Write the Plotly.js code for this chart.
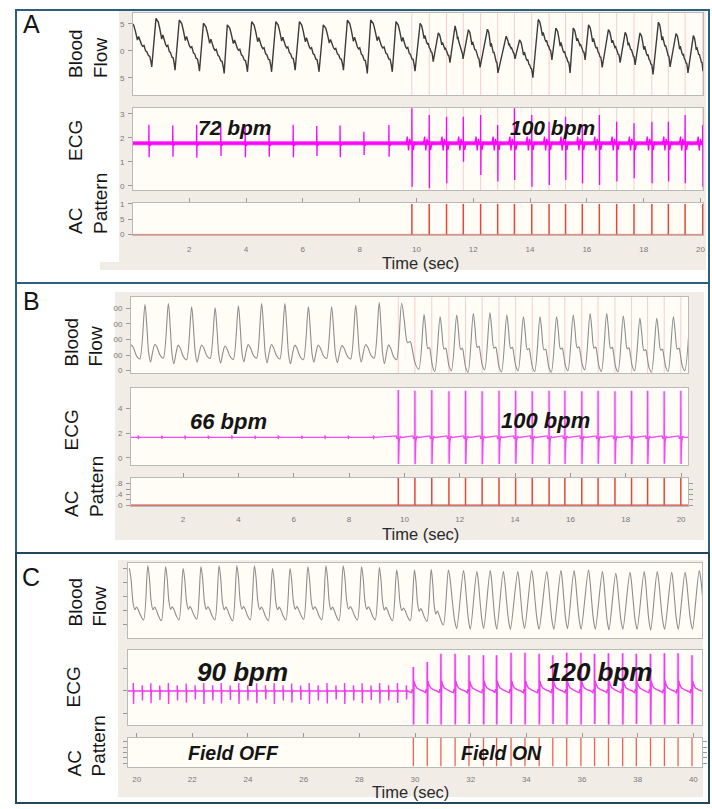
<!DOCTYPE html>
<html>
<head>
<meta charset="utf-8">
<script src="https://cdn.plot.ly/plotly-3.0.1.min.js"></script>
<style>
  html, body { margin: 0; padding: 0; background: #ffffff; }
  #chart { width: 712px; height: 809px; }
</style>
</head>
<body>
<div id="chart"></div>
<script>
// ===================== Panel A (0-20 s, field switched on near 9.8 s) =====================
const timeA = [0.02, 20.09];
// blood-flow beats before pacing: systolic peak, then the diastolic minimum that follows it
const flowA_peakT   = [-0.04, 0.83, 1.65, 2.50, 3.34, 4.20, 5.05, 5.88, 6.72, 7.57, 8.39, 9.28];
const flowA_peakV   = [5.3, 6.0, 5.7, 5.1, 4.8, 5.4, 5.4, 5.4, 4.8, 5.7, 5.7, 5.4];
const flowA_troughT = [0.68, 1.50, 2.36, 3.23, 4.05, 4.90, 5.73, 6.57, 7.43, 8.27, 9.15, 9.95];
const flowA_troughV = [-3.0, -3.6, -3.8, -4.2, -3.9, -3.9, -3.6, -3.9, -3.6, -4.2, -3.9, -3.8];
// blood-flow beats while paced
const flowA_pacedPeakT   = [10.13, 10.77, 11.36, 11.83, 12.50, 13.16, 13.63, 14.29, 14.91, 15.52, 16.06, 16.76, 17.35, 17.87, 18.52, 19.14, 19.75];
const flowA_pacedPeakV   = [5.1, 3.3, 4.6, 3.9, 4.0, 2.7, 2.0, 5.8, 4.2, 4.2, 4.8, 3.9, 3.4, 3.3, 5.3, 3.2, 2.8];
const flowA_pacedTroughT = [10.59, 11.18, 11.64, 12.24, 12.87, 13.47, 14.10, 14.77, 15.41, 15.94, 16.54, 17.17, 17.70, 18.33, 18.93, 19.56, 20.09];
const flowA_pacedTroughV = [-2.0, -2.2, -1.5, -3.1, -4.1, -1.5, -5.0, -1.7, -4.1, -1.7, -3.1, -2.2, -2.6, -4.4, -3.0, -4.1, -3.8];
// decay from peak to the next minimum (phase of the interval, fraction of the swing)
const flowA_decay = {
  phase: [0.05, 0.12, 0.20, 0.30, 0.36, 0.44, 0.50, 0.56, 0.62, 0.70, 0.76, 0.84, 0.90, 0.96],
  level: [0.96, 0.93, 0.80, 0.60, 0.68, 0.55, 0.50, 0.46, 0.48, 0.36, 0.34, 0.25, 0.24, 0.12]
};
// ECG
const ecgA_base = 1.78;
const ecgA_beatT    = [0.58, 1.42, 2.26, 3.11, 3.97, 4.81, 5.66, 6.49, 7.31, 8.15, 9.03];
const ecgA_beatUp   = [2.55, 2.52, 2.55, 2.50, 2.52, 2.50, 2.55, 2.50, 2.52, 2.26, 2.54];
const ecgA_beatDown = [1.20, 1.22, 1.18, 1.25, 1.20, 1.22, 1.20, 1.25, 1.20, 1.29, 1.22];
// AC field pulses (also the paced ECG spikes)
const acA_pulseT = [9.84, 10.45, 11.06, 11.65, 12.26, 12.86, 13.45, 14.06, 14.67, 15.25, 15.84, 16.44, 17.05, 17.66, 18.29, 18.87, 19.46, 20.08];
const ecgA_pacedUp   = [3.24, 2.96, 2.89, 2.89, 2.96, 2.54, 3.24, 2.96, 2.68, 2.89, 2.54, 2.96, 2.68, 2.61, 2.68, 2.68, 2.96, 2.54];
const ecgA_pacedDown = [-0.03, -0.10, 0.11, 1.01, 0.46, 0.18, 0.25, -0.03, 0.04, 0.25, 0.11, 0.04, 0.18, 0.32, 0.11, 0.18, 0.11, -0.03];
const ecgA_paceLead = [[-0.20, 0], [-0.16, 0.28], [-0.12, -0.30], [-0.08, 0.18], [-0.04, 0]];
const ecgA_paceTail = [[0.05, -0.28], [0.10, 0.05], [0.14, 0]];
const ecgA_beatTail = [[0.04, -0.10], [0.08, 0]];

// ===================== Panel B (0-20 s) =====================
const timeB = [0.12, 20.25];
const flowB_peakT   = [-0.22, 0.625, 1.47, 2.31, 3.16, 4.00, 4.84, 5.68, 6.53, 7.37, 8.24, 9.09];
const flowB_peakV   = [420, 425, 431, 410, 403, 416, 431, 431, 410, 410, 420, 437];
const flowB_troughT = [0.44, 1.29, 2.13, 2.98, 3.82, 4.66, 5.50, 6.35, 7.19, 8.06, 8.91, 9.72];
const flowB_troughV = [75, 80, 70, 78, 72, 80, 75, 70, 78, 75, 80, 70];
const flowB_pacedPeakT   = [9.90, 10.71, 11.29, 11.89, 12.49, 13.09, 13.70, 14.30, 14.90, 15.50, 16.10, 16.71, 17.31, 17.91, 18.51, 19.12, 19.72, 20.32];
const flowB_pacedPeakV   = [433, 361, 346, 357, 367, 371, 357, 346, 346, 346, 357, 367, 367, 350, 336, 336, 346, 380];
const flowB_pacedTroughT = [10.52, 11.10, 11.70, 12.30, 12.90, 13.51, 14.11, 14.71, 15.31, 15.91, 16.52, 17.12, 17.72, 18.32, 18.93, 19.53, 20.13];
const flowB_pacedTroughV = [10, -5, 0, -10, 5, -8, 0, -5, -10, 0, 5, -5, -8, 0, -10, -5, 0];
const flowB_natural = { phase: [0.10, 0.20, 0.30, 0.42, 0.54, 0.66, 0.80, 0.90], level: [0.60, 0.10, -0.07, 0.12, 0.26, 0.20, 0.07, 0.02] };
const flowB_paced   = { phase: [0.15, 0.35, 0.50, 0.62, 0.80], level: [0.75, 0.40, 0.42, 0.30, 0.08] };
const ecgB_base = 1.65;
const ecgB_beatT    = [0.38, 1.23, 2.07, 2.91, 3.76, 4.60, 5.44, 6.29, 7.13, 7.97, 8.88];
const ecgB_beatUp   = [1.82, 1.80, 1.82, 1.80, 1.82, 1.80, 1.82, 1.80, 1.82, 1.80, 1.82];
const ecgB_beatDown = [1.50, 1.52, 1.50, 1.52, 1.50, 1.52, 1.50, 1.52, 1.50, 1.52, 1.50];
const acB_pulseT = [9.78, 10.38, 10.99, 11.61, 12.21, 12.81, 13.42, 14.02, 14.62, 15.23, 15.80, 16.41, 17.00, 17.61, 18.21, 18.79, 19.39, 19.99];
const ecgB_pacedUp   = [5.50, 5.45, 5.50, 5.40, 5.45, 5.40, 5.45, 5.45, 5.40, 5.45, 5.45, 5.40, 5.45, 5.40, 5.45, 5.45, 5.40, 5.45];
const ecgB_pacedDown = [-0.50, -0.52, -0.50, -0.48, -0.50, -0.52, -0.50, -0.48, -0.50, -0.52, -0.50, -0.50, -0.48, -0.50, -0.52, -0.50, -0.48, -0.50];
const ecgB_paceLead = [[-0.07, 0.12], [-0.05, -0.12], [-0.03, 0]];
const ecgB_paceTail = [[0.03, -0.35], [0.07, 0.10], [0.12, 0]];
const ecgB_beatTail = [[0.03, 0.06], [0.06, 0]];

// ===================== Panel C (20-40 s, field OFF / ON at 30 s) =====================
const timeC = [19.69, 40.31];
const flowC_peakT   = [19.74, 20.40, 21.04, 21.67, 22.31, 22.96, 23.60, 24.23, 24.88, 25.51, 26.15, 26.80, 27.42, 28.08, 28.72, 29.34, 29.98, 30.58];
const flowC_peakV   = [4.00, 4.17, 4.10, 3.98, 4.10, 4.17, 4.17, 4.17, 3.98, 3.98, 4.10, 4.17, 4.17, 4.10, 4.05, 3.87, 3.87, 3.90];
const flowC_troughT = [20.25, 20.89, 21.52, 22.16, 22.81, 23.45, 24.08, 24.73, 25.36, 26.00, 26.65, 27.27, 27.93, 28.57, 29.19, 29.83, 30.43, 31.02];
const flowC_troughV = [0.35, 0.30, 0.35, 0.40, 0.35, 0.30, 0.35, 0.30, 0.35, 0.40, 0.35, 0.30, 0.35, 0.35, 0.30, 0.30, 0.25, 0.00];
const flowC_pacedPeakT   = [31.20, 31.74, 32.22, 32.70, 33.17, 33.69, 34.19, 34.73, 35.24, 35.71, 36.23, 36.73, 37.21, 37.72, 38.23, 38.70, 39.22, 39.70, 40.21];
const flowC_pacedPeakV   = [3.87, 3.83, 3.76, 3.83, 3.76, 3.76, 3.83, 3.76, 3.83, 3.83, 3.87, 3.76, 3.64, 3.71, 3.76, 3.76, 3.71, 3.71, 3.83];
const flowC_pacedTroughT = [31.50, 31.99, 32.47, 32.94, 33.43, 33.94, 34.46, 34.99, 35.48, 35.97, 36.48, 36.97, 37.47, 37.98, 38.47, 38.97, 39.46, 39.97, 40.50];
const flowC_pacedTroughV = [-0.25, -0.30, -0.25, -0.30, -0.30, -0.25, -0.30, -0.30, -0.25, -0.30, -0.30, -0.35, -0.30, -0.30, -0.35, -0.30, -0.30, -0.30, -0.30];
const flowC_natural = { phase: [0.12, 0.25, 0.38, 0.50, 0.62, 0.80], level: [0.78, 0.35, 0.20, 0.25, 0.20, 0.08] };
const flowC_paced   = { phase: [0.20, 0.45, 0.70, 0.88], level: [0.85, 0.50, 0.18, 0.05] };
const ecgC_base = 0;
const ecgC_beatT    = [19.88, 20.51, 21.14, 21.78, 22.41, 23.04, 23.67, 24.31, 24.94, 25.57, 26.20, 26.84, 27.47, 28.10, 28.73, 29.37];
const ecgC_beatUp   = [0.36, 0.34, 0.36, 0.33, 0.36, 0.35, 0.36, 0.34, 0.36, 0.33, 0.36, 0.35, 0.36, 0.34, 0.36, 0.35];
const ecgC_beatDown = [-0.58, -0.55, -0.58, -0.52, -0.58, -0.56, -0.58, -0.55, -0.58, -0.52, -0.58, -0.56, -0.58, -0.55, -0.56, -0.54];
const ecgC_echoT    = [20.20, 20.83, 21.46, 22.10, 22.73, 23.36, 23.99, 24.63, 25.26, 25.89, 26.52, 27.16, 27.79, 28.42, 29.05, 29.69];
const ecgC_echoUp   = [0.26, 0.24, 0.26, 0.25, 0.26, 0.24, 0.26, 0.25, 0.26, 0.24, 0.26, 0.25, 0.26, 0.24, 0.26, 0.25];
const ecgC_echoDown = [-0.42, -0.40, -0.42, -0.38, -0.42, -0.40, -0.42, -0.38, -0.42, -0.40, -0.42, -0.38, -0.42, -0.40, -0.42, -0.38];
const acC_pulseT = [29.94, 30.44, 30.93, 31.44, 31.94, 32.46, 32.93, 33.45, 33.95, 34.46, 34.95, 35.45, 35.96, 36.45, 36.95, 37.46, 37.95, 38.46, 38.96, 39.45, 39.95];
const ecgC_pacedUp   = [1.07, 1.29, 1.66, 1.66, 1.60, 1.60, 1.60, 1.71, 1.71, 1.66, 1.60, 1.71, 1.71, 1.66, 1.69, 1.69, 1.66, 1.66, 1.69, 1.69, 1.60];
const ecgC_pacedDown = [-1.50, -1.48, -1.50, -1.50, -1.48, -1.50, -1.50, -1.48, -1.50, -1.50, -1.48, -1.50, -1.50, -1.48, -1.50, -1.50, -1.48, -1.50, -1.50, -1.48, -1.50];
const ecgC_paceLead = [[-0.06, -0.08], [-0.04, 0.08], [-0.02, 0]];
const ecgC_paceTail = [[0.025, 0.45], [0.06, 0.28], [0.12, 0.14], [0.22, 0.06], [0.35, 0]];
const ecgC_beatTail = [[0.02, 0.05], [0.04, 0]];

// tick labels
const ticksA = [2, 4, 6, 8, 10, 12, 14, 16, 18, 20];
const ticksC = [20, 22, 24, 26, 28, 30, 32, 34, 36, 38, 40];

// ===================== builders =====================
// peak -> decay (shape template) -> minimum -> next peak ...
function flowSeries(segments) {
  const x = [], y = [];
  segments.forEach(seg => {
    seg.peakT.forEach((tp, i) => {
      const vp = seg.peakV[i];
      x.push(tp); y.push(vp);
      if (i < seg.troughT.length) {
        const tt = seg.troughT[i], vt = seg.troughV[i];
        seg.shape.phase.forEach((p, k) => {
          x.push(tp + p * (tt - tp));
          y.push(vt + seg.shape.level[k] * (vp - vt));
        });
        x.push(tt); y.push(vt);
      }
    });
  });
  return { x, y };
}

// baseline with sharp spikes; lead / tail give small deflections around each spike
function spikeEvents(base, times, ups, downs, lead, tail) {
  return times.map((t, i) => {
    const pts = [];
    lead.forEach(([dt, dv]) => pts.push([dt, base + dv]));
    pts.push([-0.004, base], [0, ups[i]], [0.008, downs[i]], [0.014, base]);
    tail.forEach(([dt, dv]) => pts.push([dt, base + dv]));
    return { t, pts };
  });
}
function ecgSeries(base, range, events) {
  events.sort((a, b) => a.t - b.t);
  const x = [range[0]], y = [base];
  events.forEach(ev => ev.pts.forEach(([dt, v]) => { x.push(ev.t + dt); y.push(v); }));
  x.push(range[1]); y.push(base);
  return { x, y };
}
function pulseLines(times, y0, y1) {
  const x = [], y = [];
  times.forEach(t => { x.push(t, t, null); y.push(y0, y1, null); });
  return { x, y };
}
// soft halo drawn under each paced spike
function spikeHalo(times, ups, downs) {
  const x = [], y = [];
  times.forEach((t, i) => { x.push(t, t, null); y.push(downs[i], ups[i], null); });
  return { x, y };
}

// ===================== geometry (pixels in a 712 x 809 page) =====================
const W = 712, H = 809;
const FONT = 'Liberation Sans, Arial, Helvetica, sans-serif';
const dx = (a, b) => [a / W, b / W];
const dy = (top, bottom) => [1 - bottom / H, 1 - top / H];

const geo = {
  A: { x: [133, 703], flow: [13, 95],   ecg: [108, 190], ac: [203, 235] },
  B: { x: [131, 688], flow: [297, 373], ecg: [388, 465], ac: [478, 506] },
  C: { x: [128, 702], flow: [563, 638], ecg: [650, 725], ac: [738, 767] }
};
const yr = {
  A: { flow: [-8.2, 7.0], ecg: [-0.17, 3.25], ac: [-0.02, 1.03] },
  B: { flow: [-15, 473],  ecg: [-0.59, 5.67], ac: [-0.03, 1.01] },
  C: { flow: [-0.92, 4.37], ecg: [-1.52, 1.83], ac: [-0.03, 1.03] }
};

const lineCol = '#b9b9b9';
const tickFont = { family: FONT, size: 8, color: '#7a7a7a' };

function xAxis(px, range, anchor, labels, standoff) {
  return {
    domain: dx(px[0], px[1]), range, anchor,
    showline: true, mirror: true, linecolor: lineCol, linewidth: 1,
    showgrid: false, zeroline: false, fixedrange: true,
    ticks: '', showticklabels: !!labels,
    tickvals: labels || [], ticktext: (labels || []).map(String),
    tickfont: tickFont, ticklabelstandoff: standoff || 6
  };
}
function topTicks(px, range, anchor, overlay, labels) {
  return {
    domain: dx(px[0], px[1]), range, anchor, overlaying: overlay, side: 'top',
    showline: false, showgrid: false, zeroline: false, fixedrange: true,
    ticks: 'outside', ticklen: 4, tickcolor: '#9a9a9a', tickwidth: 1,
    tickvals: labels, showticklabels: false
  };
}
function yAxis(px, range, anchor, vals, text, mirrorTicks) {
  return {
    domain: dy(px[0], px[1]), range, anchor,
    showline: true, mirror: mirrorTicks ? 'ticks' : true, linecolor: lineCol, linewidth: 1,
    showgrid: false, zeroline: false, fixedrange: true,
    ticks: 'outside', ticklen: 4, tickcolor: '#9a9a9a', tickwidth: 1,
    tickvals: vals, ticktext: text || vals.map(() => ''), showticklabels: !!text,
    tickfont: tickFont, ticklabelstandoff: 2
  };
}

// ===================== traces =====================
const traces = [];
function add(xy, axX, axY, line, shape) {
  traces.push({
    x: xy.x, y: xy.y, xaxis: axX, yaxis: axY, type: 'scatter', mode: 'lines',
    line: Object.assign({ shape: shape || 'linear' }, line),
    hoverinfo: 'skip', showlegend: false, connectgaps: false
  });
}
const faint = { color: 'rgba(236,120,130,0.36)', width: 1 };
const halo = { color: 'rgba(240,130,240,0.35)', width: 3 };

// ---- A ----
add(pulseLines(acA_pulseT, yr.A.flow[0], yr.A.flow[1]), 'x', 'y', faint);
add(flowSeries([
  { peakT: flowA_peakT, peakV: flowA_peakV, troughT: flowA_troughT, troughV: flowA_troughV, shape: flowA_decay },
  { peakT: flowA_pacedPeakT, peakV: flowA_pacedPeakV, troughT: flowA_pacedTroughT, troughV: flowA_pacedTroughV, shape: flowA_decay }
]), 'x', 'y', { color: '#3b3b3b', width: 1.4 });

add(pulseLines(acA_pulseT, yr.A.ecg[0], yr.A.ecg[1]), 'x2', 'y2', faint);
add({ x: timeA, y: [ecgA_base, ecgA_base] }, 'x2', 'y2', { color: '#ff22ff', width: 4 });
add(ecgSeries(ecgA_base, timeA,
  spikeEvents(ecgA_base, ecgA_beatT, ecgA_beatUp, ecgA_beatDown, [], ecgA_beatTail)
    .concat(spikeEvents(ecgA_base, acA_pulseT, ecgA_pacedUp, ecgA_pacedDown, ecgA_paceLead, ecgA_paceTail))
), 'x2', 'y2', { color: '#ff00ff', width: 1.3 });

add({ x: timeA, y: [0, 0] }, 'x3', 'y3', { color: '#ec7b72', width: 1 });
add(pulseLines(acA_pulseT, 0, 1), 'x3', 'y3', { color: '#e8453c', width: 1.5 });

// ---- B ----
add(pulseLines(acB_pulseT, yr.B.flow[0], yr.B.flow[1]), 'x4', 'y4', faint);
add(flowSeries([
  { peakT: flowB_peakT, peakV: flowB_peakV, troughT: flowB_troughT, troughV: flowB_troughV, shape: flowB_natural },
  { peakT: flowB_pacedPeakT, peakV: flowB_pacedPeakV, troughT: flowB_pacedTroughT, troughV: flowB_pacedTroughV, shape: flowB_paced }
]), 'x4', 'y4', { color: '#8d8d8d', width: 1.1, smoothing: 0.9 }, 'spline');

add(spikeHalo(acB_pulseT, ecgB_pacedUp, ecgB_pacedDown), 'x5', 'y5', halo);
add(ecgSeries(ecgB_base, timeB,
  spikeEvents(ecgB_base, ecgB_beatT, ecgB_beatUp, ecgB_beatDown, [], ecgB_beatTail)
    .concat(spikeEvents(ecgB_base, acB_pulseT, ecgB_pacedUp, ecgB_pacedDown, ecgB_paceLead, ecgB_paceTail))
), 'x5', 'y5', { color: '#ee4cee', width: 1.3 });

add({ x: timeB, y: [0, 0] }, 'x6', 'y6', { color: '#c9483f', width: 1.3 });
add(pulseLines(acB_pulseT, 0, 1.01), 'x6', 'y6', { color: '#e8453c', width: 1.5 });

// ---- C ----
add(flowSeries([
  { peakT: flowC_peakT, peakV: flowC_peakV, troughT: flowC_troughT, troughV: flowC_troughV, shape: flowC_natural },
  { peakT: flowC_pacedPeakT, peakV: flowC_pacedPeakV, troughT: flowC_pacedTroughT, troughV: flowC_pacedTroughV, shape: flowC_paced }
]), 'x7', 'y7', { color: '#8d8d8d', width: 1.1, smoothing: 0.9 }, 'spline');

add(spikeHalo(acC_pulseT, ecgC_pacedUp, ecgC_pacedDown), 'x8', 'y8', halo);
add(ecgSeries(ecgC_base, timeC,
  spikeEvents(ecgC_base, ecgC_beatT, ecgC_beatUp, ecgC_beatDown, [], ecgC_beatTail)
    .concat(spikeEvents(ecgC_base, ecgC_echoT, ecgC_echoUp, ecgC_echoDown, [], ecgC_beatTail))
    .concat(spikeEvents(ecgC_base, acC_pulseT, ecgC_pacedUp, ecgC_pacedDown, ecgC_paceLead, ecgC_paceTail))
), 'x8', 'y8', { color: '#f03cf0', width: 1.4 });

add(pulseLines(acC_pulseT, 0, 1.03), 'x9', 'y9', { color: '#ee6258', width: 1.3 });

// carriers for the top tick rows of the AC strips
add({ x: [], y: [] }, 'x10', 'y3', { color: 'rgba(0,0,0,0)' });
add({ x: [], y: [] }, 'x11', 'y6', { color: 'rgba(0,0,0,0)' });
add({ x: [], y: [] }, 'x12', 'y9', { color: 'rgba(0,0,0,0)' });

// ===================== shapes =====================
function rectPx(x0, y0, x1, y1, fill, layer, line) {
  return {
    type: 'rect', xref: 'paper', yref: 'paper',
    x0: x0 / W, x1: x1 / W, y0: 1 - y1 / H, y1: 1 - y0 / H,
    fillcolor: fill, line: line || { width: 0 }, layer: layer || 'below'
  };
}
const beige = '#f1ece6', cream = '#fffdf6';
const shapes = [
  rectPx(119, 10, 706, 270, beige),
  rectPx(100, 262, 119, 270, beige),
  rectPx(115, 292, 704, 540, beige),
  rectPx(118, 560, 703, 797, beige)
];
['A', 'B', 'C'].forEach(p => {
  ['flow', 'ecg', 'ac'].forEach(k => {
    shapes.push(rectPx(geo[p].x[0], geo[p][k][0], geo[p].x[1], geo[p][k][1], cream));
  });
});
const border = { color: '#2c5f7e', width: 2 };
shapes.push(rectPx(16, 10, 709, 283, 'rgba(0,0,0,0)', 'above', border));
shapes.push(rectPx(16, 283, 709, 553, 'rgba(0,0,0,0)', 'above', border));
shapes.push(rectPx(16, 553, 709, 803, 'rgba(0,0,0,0)', 'above', { color: '#24465c', width: 2 }));

// ===================== annotations =====================
function note(text, x, y, size, extra) {
  return Object.assign({
    text, xref: 'paper', yref: 'paper', x: x / W, y: 1 - y / H,
    xanchor: 'center', yanchor: 'middle', showarrow: false,
    font: { family: FONT, size, color: '#151515' }
  }, extra || {});
}
const vert = { textangle: -90, align: 'left' };
const timeFont = { font: { family: FONT, size: 16.5, color: '#2a2a2a' } };
const annotations = [
  note('A', 31, 24, 25), note('B', 31, 301.5, 25), note('C', 30.5, 577, 25),

  note('Blood<br>Flow', 87.5, 53.5, 19, vert),
  note('ECG', 75, 141, 19, vert),
  note('AC<br>Pattern', 87.5, 203.5, 19, vert),
  note('Blood<br>Flow', 83, 342.5, 19, vert),
  note('ECG', 70.5, 430, 19, vert),
  note('AC<br>Pattern', 84, 487, 19, vert),
  note('Blood<br>Flow', 87, 602.5, 19, vert),
  note('ECG', 73, 687.5, 19, vert),
  note('AC<br>Pattern', 86, 746.5, 19, vert),

  note('<b><i>72 bpm</i></b>', 235, 127, 21),
  note('<b><i>100 bpm</i></b>', 552, 127, 21),
  note('<b><i>66 bpm</i></b>', 228, 421, 22),
  note('<b><i>100 bpm</i></b>', 545, 420, 22),
  note('<b><i>90 bpm</i></b>', 242, 672, 26),
  note('<b><i>120 bpm</i></b>', 600, 672, 26),
  note('<b><i>Field OFF</i></b>', 233, 753, 19.5),
  note('<b><i>Field ON</i></b>', 501, 753, 19.5),

  note('Time (sec)', 420, 263, 16.5, timeFont),
  note('Time (sec)', 420, 534, 16.5, timeFont),
  note('Time (sec)', 410, 792, 16.5, timeFont)
];

// ===================== layout =====================
const layout = {
  width: W, height: H,
  margin: { l: 0, r: 0, t: 0, b: 0, pad: 0 },
  paper_bgcolor: '#ffffff', plot_bgcolor: 'rgba(0,0,0,0)',
  showlegend: false,
  shapes, annotations,

  xaxis:  xAxis(geo.A.x, timeA, 'y'),
  yaxis:  yAxis(geo.A.flow, yr.A.flow, 'x', [-5, 0, 5], ['5', '0', '5']),
  xaxis2: xAxis(geo.A.x, timeA, 'y2'),
  yaxis2: yAxis(geo.A.ecg, yr.A.ecg, 'x2', [0, 1, 2, 3], ['0', '1', '2', '3']),
  xaxis3: xAxis(geo.A.x, timeA, 'y3', ticksA, 6),
  yaxis3: yAxis(geo.A.ac, yr.A.ac, 'x3', [0, 0.5, 1], ['0', '5', '1']),

  xaxis4: xAxis(geo.B.x, timeB, 'y4'),
  yaxis4: yAxis(geo.B.flow, yr.B.flow, 'x4', [0, 100, 200, 300, 400], ['0', '00', '00', '00', '00']),
  xaxis5: xAxis(geo.B.x, timeB, 'y5'),
  yaxis5: yAxis(geo.B.ecg, yr.B.ecg, 'x5', [0, 2, 4], ['0', '2', '4']),
  xaxis6: xAxis(geo.B.x, timeB, 'y6', ticksA, 5),
  yaxis6: yAxis(geo.B.ac, yr.B.ac, 'x6', [0, 0.2, 0.4, 0.6, 0.8], ['0', '', '.4', '', '.8'], true),

  xaxis7: xAxis(geo.C.x, timeC, 'y7'),
  yaxis7: yAxis(geo.C.flow, yr.C.flow, 'x7', [0, 1, 2, 3, 4]),
  xaxis8: xAxis(geo.C.x, timeC, 'y8'),
  yaxis8: yAxis(geo.C.ecg, yr.C.ecg, 'x8', [-1, 0, 1]),
  xaxis9: xAxis(geo.C.x, timeC, 'y9', ticksC, 4),
  yaxis9: yAxis(geo.C.ac, yr.C.ac, 'x9', [0.1, 0.3, 0.5, 0.7, 0.9], null, true),

  xaxis10: topTicks(geo.A.x, timeA, 'y3', 'x3', ticksA),
  xaxis11: topTicks(geo.B.x, timeB, 'y6', 'x6', ticksA),
  xaxis12: topTicks(geo.C.x, timeC, 'y9', 'x9', ticksC)
};

Plotly.newPlot('chart', traces, layout, { staticPlot: true, displayModeBar: false });
</script>
</body>
</html>
